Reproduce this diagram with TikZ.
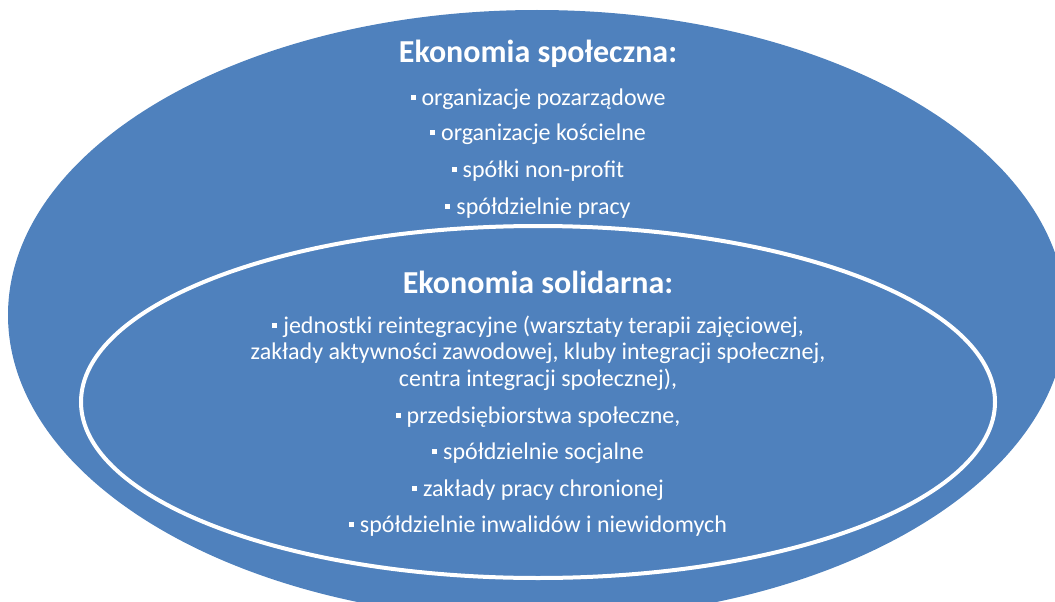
\documentclass[tikz,border=0pt]{standalone}
\usepackage{fontspec}
\setmainfont{Carlito}
\definecolor{oval blue}{RGB}{79,129,189}
% small square bullet
\newcommand{\blt}{\rule[5pt]{5pt}{5pt}\hspace{6pt}}
\tikzset{
    %Define style for the ovals
    outer oval/.style={
           fill=oval blue,
           draw=none},
    inner oval/.style={
           fill=oval blue,
           draw=white, line width=4pt},
    % Define style for texts
    heading/.style={
           text=white,
           anchor=base,
           font=\bfseries\fontsize{32}{38}\selectfont},
    entry/.style={
           text=white,
           anchor=base,
           align=center,
           font=\fontsize{24}{26.5}\selectfont}
}
\begin{document}
\begin{tikzpicture}[x=1pt,y=-1pt]
\useasboundingbox (0,0) rectangle (1055,602);
\clip (0,0) rectangle (1055,602);
 %ovals
\coordinate (social) at (537,315);
\coordinate (solidary) at (538,402);
\path[outer oval] (social) ellipse [x radius=529pt, y radius=305pt];
\path[inner oval] (solidary) ellipse [x radius=457pt, y radius=176pt];
 %outer texts
\node[heading](socialtitle) at (538,63){Ekonomia społeczna:};
\node[entry](ngo) at (538,105){\blt organizacje pozarządowe};
\node[entry](church) at (538,140){\blt organizacje kościelne};
\node[entry](nonprofit) at (538,177){\blt spółki non-profit};
\node[entry](workcoop) at (538,214){\blt spółdzielnie pracy};
 %inner texts
\node[heading](solidarytitle) at (538,293){Ekonomia solidarna:};
\node[entry](reint) at (538,386){\blt jednostki reintegracyjne (warsztaty terapii zajęciowej,\\
  zakłady aktywności zawodowej, kluby integracji społecznej,\\
  centra integracji społecznej),};
\node[entry](enterprise) at (538,423){\blt przedsiębiorstwa społeczne,};
\node[entry](socialcoop) at (538,459){\blt spółdzielnie socjalne};
\node[entry](sheltered) at (538,496){\blt zakłady pracy chronionej};
\node[entry](disabled) at (538,532){\blt spółdzielnie inwalidów i niewidomych};
\end{tikzpicture}
\end{document}
